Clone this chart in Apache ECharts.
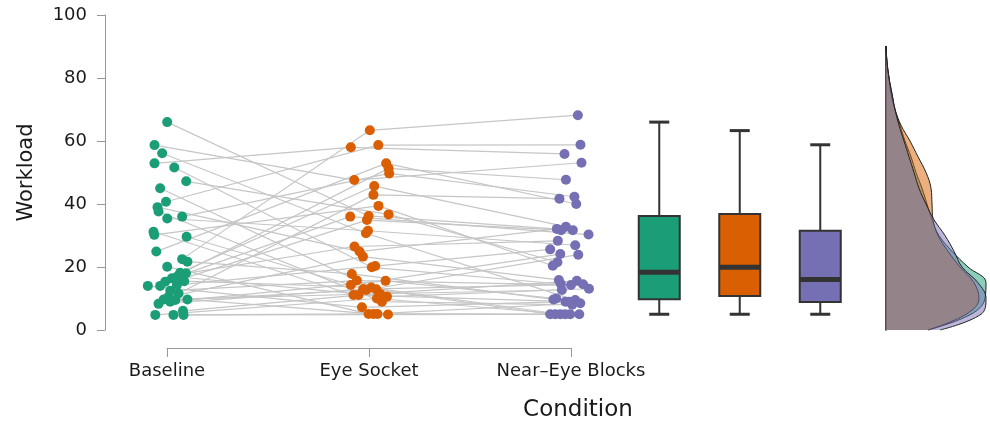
<!DOCTYPE html>
<html>
<head>
<meta charset="utf-8">
<script src="https://cdn.jsdelivr.net/npm/echarts@6/dist/echarts.min.js"></script>
<style>
html, body { margin: 0; padding: 0; background: #fff; }
#main { width: 990px; height: 423px; }
</style>
</head>
<body>
<div id="main"></div>
<script>
var conditions = ['Baseline', 'Eye Socket', 'Near\u2013Eye Blocks'];
var colors = ['#1b9e77', '#d95f02', '#7570b3'];

// one entry per participant, same order in every array
var baseline = [66.0, 58.7, 56.1, 52.9, 51.6, 47.2, 45.0, 40.7, 39.0, 37.6,
	36.0, 35.4, 31.2, 30.2, 29.6, 24.9, 22.5, 21.7, 20.1, 18.2,
	18.0, 16.9, 16.4, 15.5, 15.3, 14.3, 14.0, 14.0, 12.5, 11.6,
	10.5, 9.7, 9.7, 9.5, 9.0, 8.3, 6.1, 4.8, 4.8, 4.8];
var baselineJitter = [0.00, -0.063, -0.025, -0.063, 0.035, 0.094, -0.035, -0.006, -0.048, -0.043,
	0.074, 0.00, -0.068, -0.064, 0.096, -0.054, 0.074, 0.100, 0.00, 0.064,
	0.093, 0.048, 0.023, 0.084, -0.010, 0.048, -0.096, -0.035, 0.015, 0.056,
	0.005, -0.018, 0.100, 0.040, 0.015, -0.043, 0.078, -0.059, 0.031, 0.081];

var eyeSocket = [36.2, 47.6, 30.7, 58.0, 19.9, 36.7, 12.9, 58.7, 24.9, 9.0,
	49.7, 31.5, 11.1, 39.4, 14.3, 52.9, 63.4, 17.8, 5.1, 45.7,
	26.5, 10.6, 36.0, 13.5, 51.3, 20.3, 7.2, 34.9, 15.7, 42.9,
	23.3, 11.5, 5.1, 12.7, 15.6, 13.0, 11.1, 10.0, 5.1, 4.9];
var eyeSocketJitter = [-0.003, -0.074, -0.016, -0.091, 0.013, 0.096, 0.035, 0.045, -0.048, 0.063,
	0.099, -0.006, -0.078, 0.046, -0.091, 0.084, 0.003, -0.086, -0.003, 0.025,
	-0.073, 0.088, -0.094, 0.010, 0.096, 0.030, -0.036, -0.011, -0.061, 0.021,
	-0.031, 0.054, 0.021, -0.015, 0.081, -0.030, -0.053, 0.038, 0.041, 0.093];

var nearEye = [31.7, 53.1, 9.5, 55.9, 14.6, 21.5, 5.0, 58.8, 32.1, 8.0,
	42.3, 26.9, 15.6, 20.4, 24.1, 40.0, 68.2, 9.7, 5.0, 32.8,
	28.3, 13.1, 30.3, 5.0, 47.7, 25.6, 9.0, 31.7, 14.3, 41.7,
	15.9, 12.7, 8.5, 23.9, 10.0, 14.5, 9.0, 5.0, 5.0, 5.0];
var nearEyeJitter = [0.008, 0.051, 0.020, -0.033, -0.051, -0.068, -0.104, 0.046, -0.071, 0.005,
	0.016, 0.020, 0.028, -0.091, -0.054, 0.025, 0.033, -0.088, -0.079, -0.026,
	-0.066, 0.088, 0.086, -0.054, -0.026, -0.104, -0.028, -0.050, -0.001, -0.058,
	-0.061, -0.046, 0.045, 0.035, -0.074, 0.059, -0.010, -0.030, -0.005, 0.040];

// [min, q1, median, q3, max] per condition
var boxStats = [
	[5.0, 9.8, 18.3, 36.2, 66.0],
	[5.0, 10.8, 19.9, 36.8, 63.3],
	[5.0, 8.9, 16.0, 31.5, 58.8]
];

// density curves, read at these workload levels
var densityLevels = ['0', '5', '10', '15', '20', '25', '30', '35', '40', '45',
	'50', '55', '60', '65', '70', '75', '80', '85', '90'];
var densityBaseline = [42, 85, 99, 100, 82, 66, 53, 46, 41, 36, 30, 25, 19, 14, 9, 6, 3, 1, 0];
var densityEyeSocket = [42, 80, 93, 88, 74, 62, 52, 47, 46, 45, 40, 32, 24, 15, 9, 5, 3, 1, 0];
var densityNearEye = [54, 95, 100, 92, 76, 68, 59, 48, 40, 33, 28, 23, 18, 13, 9, 6, 3, 1, 0];

var font = 'DejaVu Sans';
var chart = echarts.init(document.getElementById('main'));

var series = [];
for (var i = 0; i < baseline.length; i++) {
	series.push({
		type: 'line',
		xAxisIndex: 0,
		yAxisIndex: 0,
		silent: true,
		symbol: 'none',
		z: 1,
		lineStyle: { color: '#c6c6c6', width: 1.2 },
		data: [
			[1 + baselineJitter[i], baseline[i]],
			[2 + eyeSocketJitter[i], eyeSocket[i]],
			[3 + nearEyeJitter[i], nearEye[i]]
		]
	});
}

var groups = [[baseline, baselineJitter], [eyeSocket, eyeSocketJitter], [nearEye, nearEyeJitter]];
groups.forEach(function(g, k) {
	series.push({
		type: 'scatter',
		xAxisIndex: 0,
		yAxisIndex: 0,
		symbolSize: 10,
		z: 3,
		itemStyle: { color: colors[k], opacity: 1 },
		data: g[0].map(function(v, j) { return [k + 1 + g[1][j], v]; })
	});
});

series.push({
	type: 'custom',
	xAxisIndex: 2,
	yAxisIndex: 2,
	encode: { x: 0, y: [1, 2, 3, 4, 5] },
	data: boxStats.map(function(s, k) { return [k + 1].concat(s); }),
	renderItem: function(params, api) {
		var x = api.value(0);
		var pMin = api.coord([x, api.value(1)]);
		var pQ1 = api.coord([x, api.value(2)]);
		var pMed = api.coord([x, api.value(3)]);
		var pQ3 = api.coord([x, api.value(4)]);
		var pMax = api.coord([x, api.value(5)]);
		var cx = pMed[0];
		var half = 20.5;
		var cap = 10;
		var dark = '#333';
		return {
			type: 'group',
			children: [
				{ type: 'line', shape: { x1: cx, y1: pMax[1], x2: cx, y2: pQ3[1] }, style: { stroke: dark, lineWidth: 2 } },
				{ type: 'line', shape: { x1: cx, y1: pQ1[1], x2: cx, y2: pMin[1] }, style: { stroke: dark, lineWidth: 2 } },
				{ type: 'line', shape: { x1: cx - cap, y1: pMax[1], x2: cx + cap, y2: pMax[1] }, style: { stroke: dark, lineWidth: 3 } },
				{ type: 'line', shape: { x1: cx - cap, y1: pMin[1], x2: cx + cap, y2: pMin[1] }, style: { stroke: dark, lineWidth: 3 } },
				{ type: 'rect', shape: { x: cx - half, y: pQ3[1], width: half * 2, height: pQ1[1] - pQ3[1] },
					style: { fill: colors[params.dataIndex], stroke: dark, lineWidth: 2 } },
				{ type: 'line', shape: { x1: cx - half, y1: pMed[1], x2: cx + half, y2: pMed[1] }, style: { stroke: dark, lineWidth: 5 } }
			]
		};
	}
});

[densityBaseline, densityEyeSocket, densityNearEye].forEach(function(d, k) {
	series.push({
		type: 'line',
		xAxisIndex: 3,
		yAxisIndex: 3,
		silent: true,
		symbol: 'none',
		smooth: 0.4,
		z: 2 + k,
		lineStyle: { color: '#222', width: 1 },
		areaStyle: { color: colors[k], opacity: 0.5 },
		data: d
	});
});

var hiddenY = { type: 'value', min: 0, max: 100, show: false };

option = {
	animation: false,
	backgroundColor: '#fff',
	textStyle: { fontFamily: font },
	grid: [
		{ left: 105, top: 15, width: 528.4, height: 315 },
		{ left: 167, top: 15, width: 404, height: 333 },
		{ left: 619, top: 15, width: 241.5, height: 315 },
		{ left: 886, top: 46.5, width: 104, height: 283.5 }
	],
	xAxis: [
		{ gridIndex: 0, type: 'value', min: 0.692, max: 3.308, show: false },
		{
			gridIndex: 1, type: 'value', min: 1, max: 3, interval: 1,
			axisLine: { lineStyle: { color: '#999', width: 1 } },
			axisTick: { length: 9, lineStyle: { color: '#999' } },
			splitLine: { show: false },
			axisLabel: {
				fontSize: 18, color: '#1a1a1a', margin: 14, fontFamily: font,
				formatter: function(v) { return conditions[v - 1]; }
			}
		},
		{ gridIndex: 2, type: 'value', min: 0.5, max: 3.5, show: false },
		{ gridIndex: 3, type: 'value', min: 0, max: 104, show: false }
	],
	yAxis: [
		{
			gridIndex: 0, type: 'value', min: 0, max: 100, interval: 20,
			name: 'Workload', nameLocation: 'middle', nameGap: 68,
			nameTextStyle: { fontSize: 21, color: '#1a1a1a', fontFamily: font },
			axisLine: { show: true, lineStyle: { color: '#999', width: 1 } },
			axisTick: { show: true, length: 8, lineStyle: { color: '#999' } },
			splitLine: { show: false },
			axisLabel: { fontSize: 18, color: '#1a1a1a', margin: 18, fontFamily: font }
		},
		Object.assign({ gridIndex: 1 }, hiddenY),
		Object.assign({ gridIndex: 2 }, hiddenY),
		{
			gridIndex: 3, type: 'category', boundaryGap: false, data: densityLevels,
			axisLine: { show: true, lineStyle: { color: '#111', width: 1.5 } },
			axisTick: { show: false },
			axisLabel: { show: false },
			splitLine: { show: false }
		}
	],
	graphic: [{
		type: 'text',
		x: 578,
		y: 410,
		style: {
			text: 'Condition',
			fill: '#1a1a1a',
			font: '23px "DejaVu Sans"',
			align: 'center',
			verticalAlign: 'middle'
		}
	}],
	series: series
};

chart.setOption(option);
</script>
</body>
</html>
